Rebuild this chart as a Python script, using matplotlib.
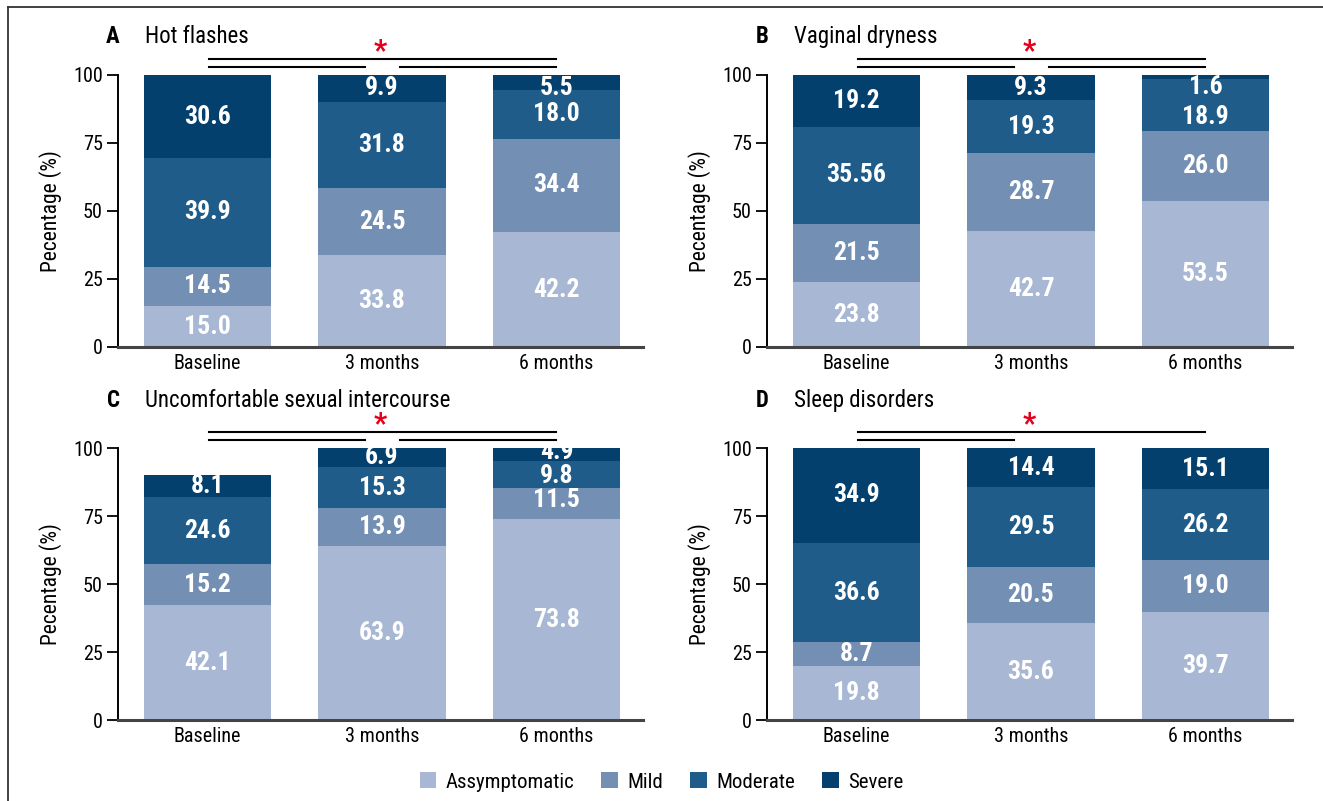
import matplotlib
matplotlib.use("Agg")
import matplotlib.pyplot as plt
from matplotlib.lines import Line2D
from matplotlib.patches import Patch
import numpy as np

plt.rcParams['font.family'] = ['Liberation Sans Narrow', 'Roboto Condensed',
                               'DejaVu Sans Condensed', 'Liberation Sans', 'DejaVu Sans']

timepoints = ["Baseline", "3 months", "6 months"]
severity_levels = ["Assymptomatic", "Mild", "Moderate", "Severe"]
severity_colors = ["#A8B8D4", "#738FB4", "#1F5C89", "#03406E"]

# Percentages per timepoint, ordered Assymptomatic, Mild, Moderate, Severe
hot_flashes = [[15.0, 14.5, 39.9, 30.6], [33.8, 24.5, 31.8, 9.9], [42.2, 34.4, 18.0, 5.5]]
vaginal_dryness = [[23.8, 21.5, 35.56, 19.2], [42.7, 28.7, 19.3, 9.3], [53.5, 26.0, 18.9, 1.6]]
sexual_discomfort = [[42.1, 15.2, 24.6, 8.1], [63.9, 13.9, 15.3, 6.9], [73.8, 11.5, 9.8, 4.9]]
sleep_disorders = [[19.8, 8.7, 36.6, 34.9], [35.6, 20.5, 29.5, 14.4], [39.7, 19.0, 26.2, 15.1]]

panel_letters = ["A", "B", "C", "D"]
panel_titles = ["Hot flashes", "Vaginal dryness", "Uncomfortable sexual intercourse", "Sleep disorders"]
panel_data = [hot_flashes, vaginal_dryness, sexual_discomfort, sleep_disorders]

# Significant pairwise comparisons (timepoint indices) for each panel
panel_comparisons = [
    [(0, 2), (0, 1), (1, 2)],
    [(0, 2), (0, 1), (1, 2)],
    [(0, 2), (0, 1), (1, 2)],
    [(0, 2), (0, 1)],
]

W, H = 1323, 801
fig = plt.figure(figsize=(W / 100, H / 100), dpi=100)

# axes boxes in pixels: (left, top, right, bottom)
boxes = [(118, 75, 643, 347), (767, 75, 1292, 347),
         (118, 448, 643, 720), (767, 448, 1292, 720)]
title_gap = [38.5, 38.5, 47.5, 47.5]

# small vertical nudges for crowded labels (panel, bar, level) -> data units
label_nudge = {(0, 2, 3): -2.0, (1, 2, 3): -3.6, (1, 2, 2): -4.4,
               (2, 2, 3): 0.9, (2, 2, 2): -0.4, (2, 2, 1): 1.2}

x = np.arange(len(timepoints))
bar_w = 0.73

for p, (data, box) in enumerate(zip(panel_data, boxes)):
    l, t, r, b = box
    ax = fig.add_axes([l / W, 1 - b / H, (r - l) / W, (b - t) / H])
    vals = np.array(data)
    bottoms = np.zeros(len(timepoints))
    for k in range(len(severity_levels)):
        ax.bar(x, vals[:, k], bottom=bottoms, width=bar_w,
               color=severity_colors[k], edgecolor='none', zorder=2)
        for i in range(len(timepoints)):
            yc = bottoms[i] + vals[i, k] / 2 + label_nudge.get((p, i, k), 0)
            v = vals[i, k]
            txt = f"{v:.2f}" if abs(v * 10 - round(v * 10)) > 1e-6 else f"{v:.1f}"
            ax.text(x[i], yc, txt, ha='center', va='center', color='white',
                    fontsize=18.5, fontweight='bold', zorder=3)
        bottoms += vals[:, k]

    ax.set_xlim(-0.513, 2.496)
    ax.set_ylim(0, 100)
    ax.set_yticks([0, 25, 50, 75, 100])
    ax.set_xticks(x)
    ax.set_xticklabels(timepoints)
    ax.tick_params(axis='y', length=8, width=1.3, labelsize=14.5, pad=3)
    ax.tick_params(axis='x', length=0, labelsize=14.5, pad=5)
    for s in ('top', 'right'):
        ax.spines[s].set_visible(False)
    ax.spines['left'].set_linewidth(1.4)
    ax.spines['bottom'].set_linewidth(2.2)
    ax.spines['bottom'].set_color('#444444')
    ax.set_ylabel("Pecentage (%)", fontsize=15.5)
    ax.yaxis.set_label_coords(-0.107, 0.5)

    # panel heading
    ty = 1 + title_gap[p] / (b - t)
    ax.text(0.003, ty, panel_letters[p], transform=ax.transAxes, ha='right',
            va='center', fontsize=16.5, fontweight='bold')
    ax.text(0.051, ty, panel_titles[p], transform=ax.transAxes, ha='left',
            va='center', fontsize=16.5)

    # significance brackets
    upper = 100 + 16.5 / 2.72
    lower = 100 + 8.3 / 2.72
    for (a, c) in panel_comparisons[p]:
        if (a, c) == (0, 2):
            xs, y = (0.01, 2.0), upper
        elif (a, c) == (0, 1):
            xs, y = (0.01, 0.905), lower
        else:
            xs, y = (1.106, 2.0), lower
        ax.plot(xs, [y, y], color='black', lw=1.5, clip_on=False, zorder=4)
    ax.text(0.99, 100 + 24 / 2.72, "*", color='#E2001A',
            ha='center', va='center', fontsize=21, fontweight='bold', clip_on=False)

# legend
handles = [Patch(facecolor=c, edgecolor='none', label=lab)
           for c, lab in zip(severity_colors, severity_levels)]
fig.legend(handles=handles, loc='center', bbox_to_anchor=(0.5, 1 - 782 / H),
           ncol=4, frameon=False, fontsize=15, handlelength=0.8, handleheight=0.8,
           handletextpad=0.45, columnspacing=1.3)

# outer frame
fig.add_artist(Line2D([8 / W, 1], [1 - 7 / H, 1 - 7 / H], color='#333333', lw=1.3))
fig.add_artist(Line2D([8 / W, 8 / W], [0, 1 - 7 / H], color='#333333', lw=1.3))

fig.savefig("out.png", dpi=100)
